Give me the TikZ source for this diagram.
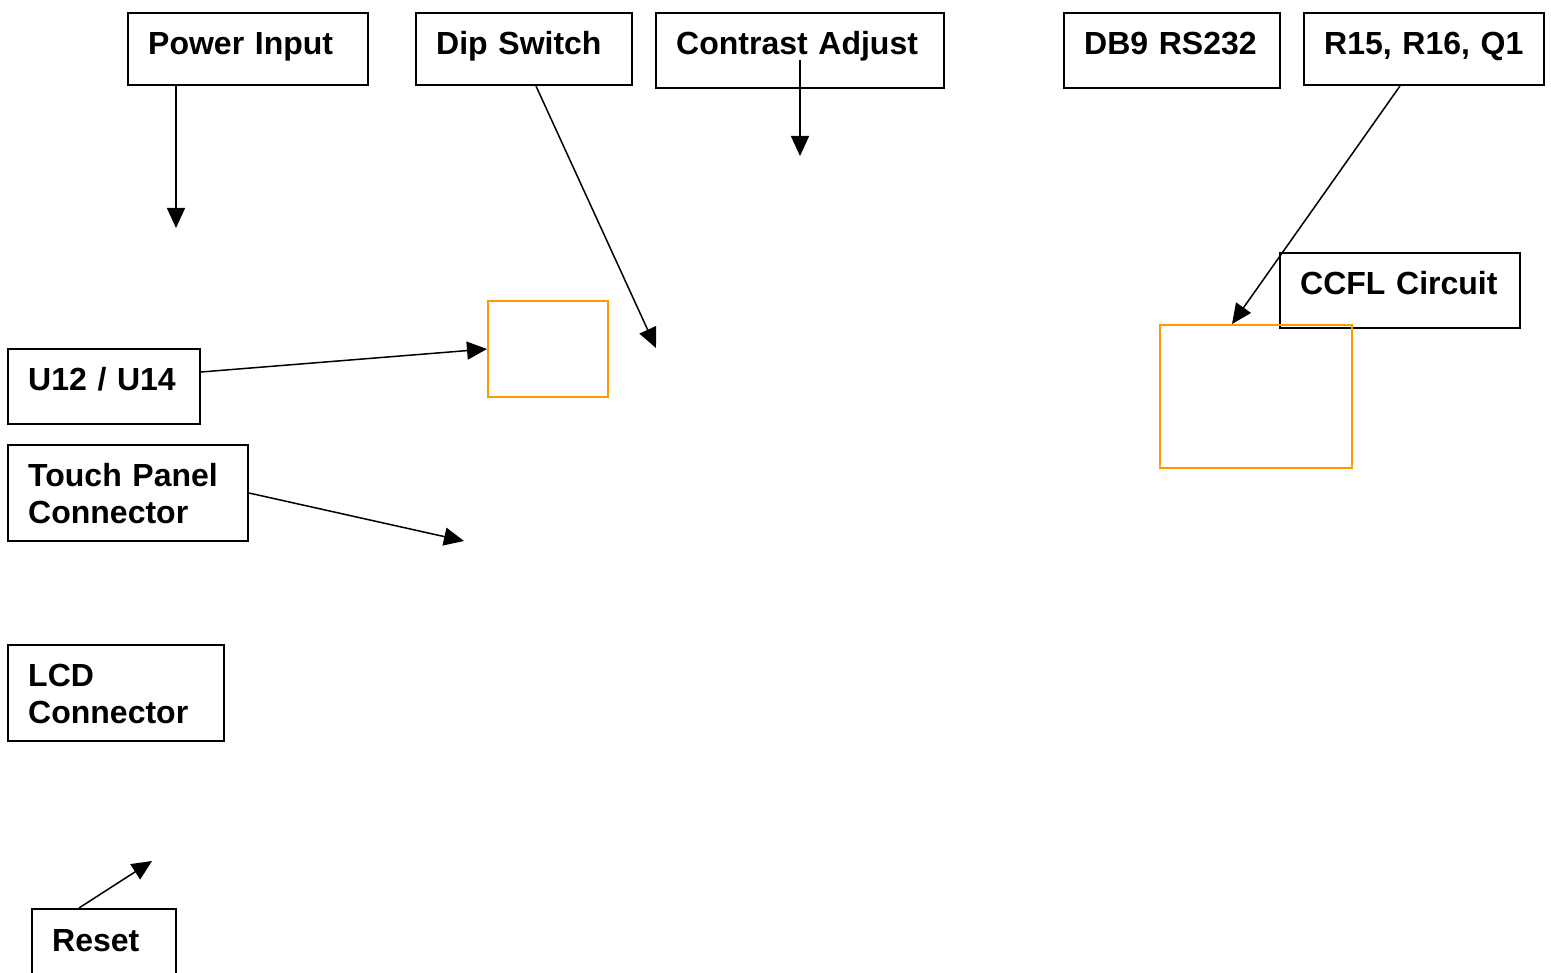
\documentclass[tikz,border=0pt]{standalone}
\usepackage{fontspec}
\setmainfont{Liberation Sans}
\usetikzlibrary{arrows.meta,calc}
\definecolor{boxorange}{RGB}{255,153,0}
\begin{document}
\begin{tikzpicture}[x=1pt,y=-1pt,
  box/.style={draw=black,line width=2pt,anchor=north west,inner sep=0pt},
  obox/.style={draw=boxorange,line width=2pt,anchor=north west,inner sep=0pt},
  lbl/.style={anchor=base west,inner sep=0pt,align=left,text width=#1,
    font=\fontsize{32}{37}\selectfont\bfseries},
  lbl/.default=230pt,
  arr/.style={draw=black,line width=1.5pt,-{Triangle[length=20pt,width=18pt]}}]
\useasboundingbox (0,0) rectangle (1551,973);
% boxes
\node[box,minimum width=240pt,minimum height=72pt] (pw) at (127,12) {};
\node[box,minimum width=216pt,minimum height=72pt] (dip) at (415,12) {};
\node[box,minimum width=288pt,minimum height=75pt] (ca) at (655,12) {};
\node[box,minimum width=216pt,minimum height=75pt] (db) at (1063,12) {};
\node[box,minimum width=240pt,minimum height=72pt] (rq) at (1303,12) {};
\node[box,minimum width=240pt,minimum height=75pt] (cc) at (1279,252) {};
\node[box,minimum width=192pt,minimum height=75pt] (u12) at (7,348) {};
\node[box,minimum width=240pt,minimum height=96pt] (tp) at (7,444) {};
\node[box,minimum width=216pt,minimum height=96pt] (lcd) at (7,644) {};
\node[box,minimum width=144pt,minimum height=90pt] (rst) at (31,908) {};
% orange boxes
\node[obox,minimum width=120pt,minimum height=96pt] (ob1) at (487,300) {};
\node[obox,minimum width=192pt,minimum height=143pt] (ob2) at (1159,324) {};
% labels
\node[lbl] (pwt) at ([shift={(21,43)}]pw.north west) {Power Input};
\node[lbl] (dipt) at ([shift={(21,43)}]dip.north west) {Dip Switch};
\node[lbl=260pt] (cat) at ([shift={(21,43)}]ca.north west) {Contrast Adjust};
\node[lbl] (dbt) at ([shift={(21,43)}]db.north west) {DB9 RS232};
\node[lbl] (rqt) at ([shift={(21,43)}]rq.north west) {R15, R16, Q1};
\node[lbl] (cct) at ([shift={(21,43)}]cc.north west) {CCFL Circuit};
\node[lbl] (u12t) at ([shift={(21,43)}]u12.north west) {U12 / U14};
\node[lbl=215pt] (tpt) at ([shift={(21,42)}]tp.north west) {Touch Panel\\Connector};
\node[lbl=190pt] (lcdt) at ([shift={(21,42)}]lcd.north west) {LCD\\Connector};
\node[lbl] (rstt) at ([shift={(21,43)}]rst.north west) {Reset};
% free arrow ends
\coordinate (pwE) at (176,228);
\coordinate (dipE) at (656,348);
\coordinate (caS) at (800,60);
\coordinate (caE) at (800,156);
\coordinate (tpE) at (464,541);
\coordinate (rstE) at (152,861);
% arrows
\draw[arr] (pw.south -| pwE) -- (pwE);
\draw[arr] ([xshift=12pt]dip.south) -- (dipE);
\draw[arr] (caS) -- (caE);
\draw[arr] ([xshift=-24pt]rq.south) -- ([xshift=73pt]ob2.north west);
\draw[arr] ([yshift=14.5pt]u12.east) -- (ob1.west);
\draw[arr] (tp.east) -- (tpE);
\draw[arr] ([xshift=48pt]rst.north west) -- (rstE);
\end{tikzpicture}
\end{document}
